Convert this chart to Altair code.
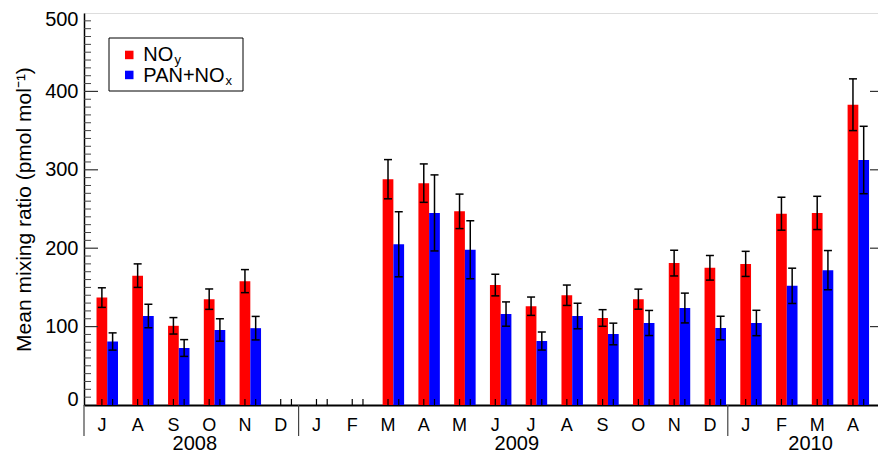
import altair as alt
import pandas as pd

# ---------------- data ----------------
months = ["J", "A", "S", "O", "N", "D",
          "J", "F", "M", "A", "M", "J", "J", "A", "S", "O", "N", "D",
          "J", "F", "M", "A"]
years = [2008] * 6 + [2009] * 12 + [2010] * 4

noy = [137, 165, 101, 135, 158, None,
       None, None, 288, 283, 247, 153, 126, 140, 111, 135, 181, 175,
       180, 244, 245, 383]
noy_err = [12.5, 15, 10.5, 13, 14.7, None,
           None, None, 25, 24.5, 22, 13.8, 11.7, 13, 10.6, 12.8, 16.4, 15.7,
           16, 21, 21.2, 33]
pan = [81, 113.5, 72.7, 95.7, 98, None,
       None, None, 205, 245, 198, 116, 81.6, 113.5, 90.6, 104.6, 123.7, 98.2,
       104.6, 152, 172, 312.5]
pan_err = [11, 15, 10.7, 14.3, 15, None,
           None, None, 41.5, 48.5, 37, 15.5, 11.5, 16.3, 13.8, 16, 19, 15,
           16.2, 22.5, 25, 43]

series_names = ["NOy", "PAN+NOx"]
colors = ["#ff0000", "#0000ff"]
y_ticks = [0, 100, 200, 300, 400, 500]

# ---------------- geometry / style ----------------
W, H = 794, 392
XMIN, XMAX = -0.5, 21.70
YEAR_END = 21.93
BAR_W = 0.3
CAP = 0.112
FONT = "Liberation Sans"

rows = []
for i in range(len(months)):
    for s, (vals, errs) in enumerate([(noy, noy_err), (pan, pan_err)]):
        v = vals[i]
        if v is None:
            continue
        e = errs[i]
        xc = i + s * BAR_W
        rows.append(dict(series=series_names[s], xc=xc,
                         x0=xc - BAR_W / 2, x1=xc + BAR_W / 2,
                         value=v, lo=v - e, hi=v + e,
                         c0=xc - CAP, c1=xc + CAP))
bars_df = pd.DataFrame(rows)

ticks_df = pd.DataFrame({"pos": [i + s * BAR_W for i in range(len(months)) for s in (0, 1)]})
month_df = pd.DataFrame({"idx": list(range(len(months))), "month": months})

# year boundaries and label centres
bounds = [XMIN]
for i in range(1, len(years)):
    if years[i] != years[i - 1]:
        bounds.append(i - 0.5)
ends = bounds[1:] + [YEAR_END]
uniq_years = []
for y in years:
    if y not in uniq_years:
        uniq_years.append(y)
year_df = pd.DataFrame({"mid": [(a + b) / 2 + 0.1 for a, b in zip(bounds, ends)],
                        "year": [str(y) for y in uniq_years]})
div_df = pd.DataFrame({"b": bounds})

minor_df = pd.DataFrame({"v": [v for v in range(10, 500, 10) if v % 100 != 0]})
major_df = pd.DataFrame({"v": [v for v in y_ticks if 0 < v < 500]})
one = pd.DataFrame({"a": [0]})

xscale = alt.Scale(domain=[XMIN, XMAX], nice=False, zero=False)
yscale = alt.Scale(domain=[0, 500], nice=False)
xaxis = alt.Axis(labels=False, ticks=False, grid=False, title=None,
                 domainColor="black", domainWidth=2)
yaxis = alt.Axis(values=y_ticks, ticks=False, grid=False, labelFontSize=20,
                 labelPadding=6, labelFlush=True, labelFlushOffset=4,
                 labelColor="black", labelFont=FONT,
                 domainColor="black", domainWidth=1.5,
                 title="Mean mixing ratio (pmol mol⁻¹)", titleFontSize=21,
                 titleFontWeight="normal", titleColor="black", titleFont=FONT,
                 titlePadding=10)


def X(f):
    return alt.X(f + ":Q", scale=xscale, axis=xaxis)


def Y(f):
    return alt.Y(f + ":Q", scale=yscale, axis=yaxis)


bars = alt.Chart(bars_df).mark_bar(strokeWidth=0).encode(
    x=X("x0"), x2="x1", y=Y("value"), y2=alt.datum(0),
    color=alt.Color("series:N", scale=alt.Scale(domain=series_names, range=colors), legend=None),
)
err_v = alt.Chart(bars_df).mark_rule(color="black", strokeWidth=1.5).encode(
    x=X("xc"), y=Y("lo"), y2="hi")
cap_hi = alt.Chart(bars_df).mark_rule(color="black", strokeWidth=1.5).encode(
    x=X("c0"), x2="c1", y=Y("hi"))
cap_lo = alt.Chart(bars_df).mark_rule(color="black", strokeWidth=1.5).encode(
    x=X("c0"), x2="c1", y=Y("lo"))

bottom_ticks = alt.Chart(ticks_df).mark_rule(color="black", strokeWidth=1.2).encode(
    x=X("pos"), y=alt.value(H - 6), y2=alt.value(H))
left_minor = alt.Chart(minor_df).mark_rule(color="#444", strokeWidth=1).encode(
    y=Y("v"), x=alt.value(0), x2=alt.value(7))
left_major = alt.Chart(major_df).mark_rule(color="#333", strokeWidth=1.2).encode(
    y=Y("v"), x=alt.value(0), x2=alt.value(14))
right_major = alt.Chart(major_df).mark_rule(color="#333", strokeWidth=1.2).encode(
    y=Y("v"), x=alt.value(W - 8), x2=alt.value(W))

dividers = alt.Chart(div_df).mark_rule(color="#444", strokeWidth=1.2).encode(
    x=X("b"), y=alt.value(H), y2=alt.value(H + 31))
month_text = alt.Chart(month_df).mark_text(
    fontSize=18, font=FONT, baseline="alphabetic", align="center", color="black").encode(
    x=X("idx"), y=alt.value(H + 26), text="month:N")
year_text = alt.Chart(year_df).mark_text(
    fontSize=20, font=FONT, baseline="alphabetic", align="center", color="black").encode(
    x=X("mid"), y=alt.value(H + 45), text="year:N")

# legend (drawn by hand to allow subscripts)
leg_box = alt.Chart(one).mark_rect(fill="white", stroke="black", strokeWidth=1).encode(
    x=alt.value(25), x2=alt.value(159), y=alt.value(25), y2=alt.value(78))
leg_red = alt.Chart(one).mark_rect(fill=colors[0]).encode(
    x=alt.value(41), x2=alt.value(49.5), y=alt.value(37.7), y2=alt.value(46.2))
leg_blue = alt.Chart(one).mark_rect(fill=colors[1]).encode(
    x=alt.value(41), x2=alt.value(49.5), y=alt.value(57.7), y2=alt.value(66.2))
leg_t1 = alt.Chart(one).mark_text(fontSize=20, font=FONT, align="left", baseline="alphabetic",
                                  color="black").encode(
    x=alt.value(59.3), y=alt.value(47.7), text=alt.value("NO"))
leg_s1 = alt.Chart(one).mark_text(fontSize=13, font=FONT, align="left", baseline="alphabetic",
                                  color="black").encode(
    x=alt.value(90.5), y=alt.value(50.5), text=alt.value("y"))
leg_t2 = alt.Chart(one).mark_text(fontSize=20, font=FONT, align="left", baseline="alphabetic",
                                  color="black").encode(
    x=alt.value(59.3), y=alt.value(68.7), text=alt.value("PAN+NO"))
leg_s2 = alt.Chart(one).mark_text(fontSize=13, font=FONT, align="left", baseline="alphabetic",
                                  color="black").encode(
    x=alt.value(141.5), y=alt.value(72), text=alt.value("x"))

chart = alt.layer(
    bars, err_v, cap_hi, cap_lo, bottom_ticks, left_minor, left_major, right_major,
    dividers, month_text, year_text,
    leg_box, leg_red, leg_blue, leg_t1, leg_s1, leg_t2, leg_s2,
).properties(
    width=W, height=H,
    autosize=alt.AutoSizeParams(type="none"),
    padding={"left": 76, "top": 5, "right": 0, "bottom": 47},
).configure_view(
    stroke="#555", strokeWidth=1
).configure(font=FONT, background="white")

chart.save("out.html", embed_options={"renderer": "svg", "actions": False})
